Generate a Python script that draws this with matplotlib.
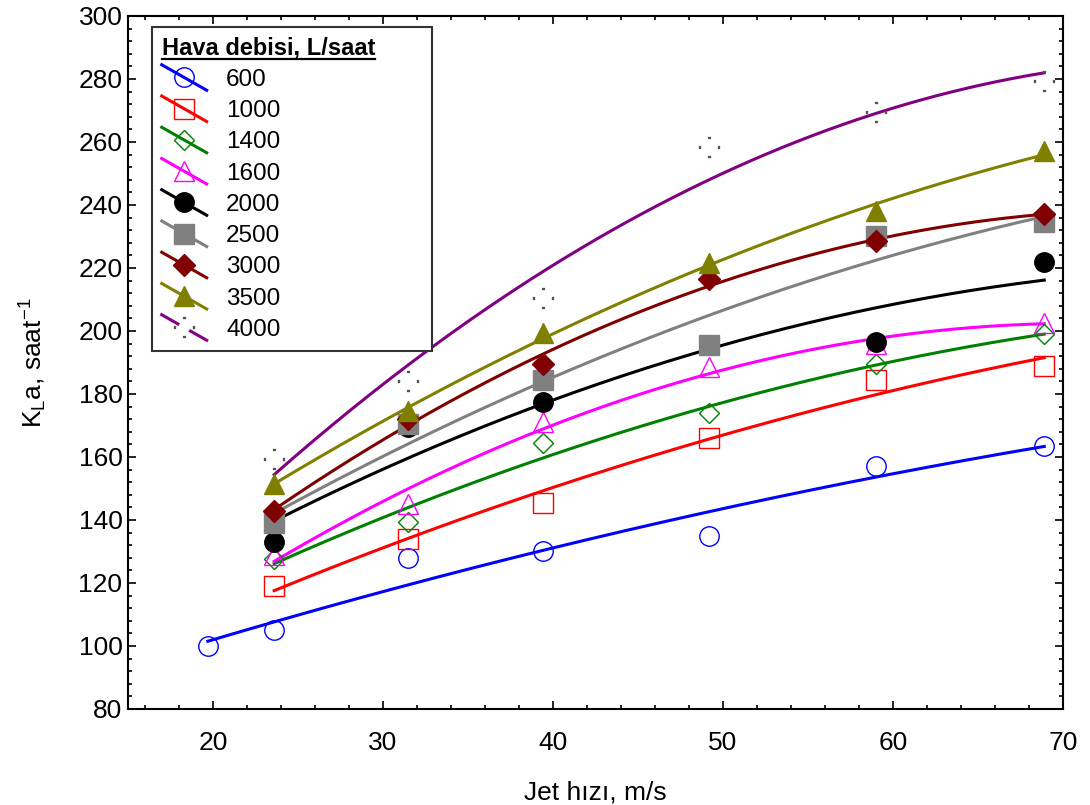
import numpy as np
import matplotlib
matplotlib.use("Agg")
import matplotlib.pyplot as plt
from matplotlib.path import Path
from matplotlib.legend_handler import HandlerLine2D
from matplotlib.lines import Line2D
from matplotlib.ticker import MultipleLocator

plt.rcParams['font.family'] = ['Liberation Sans', 'DejaVu Sans']
plt.rcParams['mathtext.fontset'] = 'custom'
plt.rcParams['mathtext.rm'] = 'Liberation Sans'
plt.rcParams['mathtext.it'] = 'Liberation Sans:italic'
plt.rcParams['mathtext.bf'] = 'Liberation Sans:bold'

# jet velocity (m/s) and KLa (1/h) for each air flow rate (L/h)
jet_x = [23.6, 31.5, 39.4, 49.2, 59.0, 68.9]
jet_x_600 = [19.7, 23.6, 31.5, 39.4, 49.2, 59.0, 68.9]

kla_600 = [100.0, 105.0, 128.0, 130.0, 135.0, 157.0, 163.5]
kla_1000 = [119.0, 134.0, 145.5, 166.0, 184.5, 189.0]
kla_1400 = [127.5, 139.5, 164.5, 174.0, 189.5, 199.0]
kla_1600 = [129.0, 145.0, 171.0, 188.5, 196.0, 202.5]
kla_2000 = [133.0, 169.5, 177.5, 195.5, 196.5, 222.0]
kla_2500 = [139.0, 170.5, 184.5, 195.5, 230.0, 234.5]
kla_3000 = [143.0, 172.0, 189.5, 216.5, 228.5, 237.0]
kla_3500 = [151.5, 174.5, 199.5, 221.5, 238.0, 257.0]
kla_4000 = [159.5, 184.0, 210.5, 258.5, 269.5, 279.5]

flow_labels = ['600', '1000', '1400', '1600', '2000', '2500', '3000', '3500', '4000']

# four tiny dots in a plus pattern (marker of the 4000 series)
s = 0.07
dot_verts = []
dot_codes = []
for cx, cy in [(0, 1), (1, 0), (0, -1), (-1, 0)]:
    dot_verts += [(cx - s, cy - s), (cx + s, cy - s), (cx + s, cy + s),
                  (cx - s, cy + s), (cx - s, cy - s)]
    dot_codes += [Path.MOVETO, Path.LINETO, Path.LINETO, Path.LINETO, Path.CLOSEPOLY]
four_dots = Path(dot_verts, dot_codes)

series = [
    (jet_x_600, kla_600, '#0000ff', 'o', 'none', 14),
    (jet_x, kla_1000, '#ff0000', 's', 'none', 14),
    (jet_x, kla_1400, '#008000', 'D', 'none', 10),
    (jet_x, kla_1600, '#ff00ff', '^', 'none', 14),
    (jet_x, kla_2000, '#000000', 'o', '#000000', 14),
    (jet_x, kla_2500, '#808080', 's', '#808080', 14),
    (jet_x, kla_3000, '#800000', 'D', '#800000', 11),
    (jet_x, kla_3500, '#808000', '^', '#808000', 14),
    (jet_x, kla_4000, '#800080', four_dots, '#555555', 15),
]


class DiagonalHandler(HandlerLine2D):
    """Legend handle with the line drawn diagonally through the marker."""

    def __init__(self, gap=False, **kw):
        super().__init__(**kw)
        self.gap = gap

    def create_artists(self, legend, orig_handle, xdescent, ydescent,
                       width, height, fontsize, trans):
        artists = super().create_artists(legend, orig_handle, xdescent, ydescent,
                                         width, height, fontsize, trans)
        line = artists[0]
        x0, x1 = -xdescent, -xdescent + width
        xm = x0 + 0.5 * width
        ym = (height - ydescent) / 2
        k = 0.75 * height
        if self.gap:
            line.set_data([x0, x0 + 0.36 * width, np.nan, xm, np.nan, x0 + 0.64 * width, x1],
                          [ym + k, ym + 0.28 * k, np.nan, ym, np.nan, ym - 0.28 * k, ym - k])
            line.set_markevery([3])
        else:
            line.set_data([x0, xm, x1], [ym + k, ym, ym - k])
            line.set_markevery([1])
        return artists


fig = plt.figure(figsize=(10.9, 8.05), dpi=100)
ax = fig.add_axes([0.1174, 0.1193, 0.8578, 0.8609])

handles = []
for (xs, ys, color, marker, mfc, ms), label in zip(series, flow_labels):
    xs = np.array(xs)
    ys = np.array(ys)
    coef = np.polyfit(xs, ys, 2)
    xf = np.linspace(xs.min(), xs.max(), 200)
    ax.plot(xf, np.polyval(coef, xf), color=color, lw=2.2, zorder=2)
    mec = '#555555' if mfc == '#555555' else color
    ax.plot(xs, ys, ls='none', marker=marker, ms=ms, mfc=mfc, mec=mec,
            mew=1.0, zorder=3)
    handles.append(Line2D([], [], color=color, lw=2.2, marker=marker, ms=ms,
                          mfc=mfc, mec=mec, mew=1.0, label=label))

ax.set_xlim(15, 70)
ax.set_ylim(80, 300)
ax.xaxis.set_major_locator(MultipleLocator(10))
ax.xaxis.set_minor_locator(MultipleLocator(2))
ax.yaxis.set_major_locator(MultipleLocator(20))
ax.yaxis.set_minor_locator(MultipleLocator(4))
ax.tick_params(which='both', direction='in', top=True, right=True,
               labelsize=19, width=1.2)
ax.tick_params(axis='x', which='both', pad=16)
ax.tick_params(axis='y', which='both', pad=4)
ax.tick_params(which='major', length=6)
ax.tick_params(which='minor', length=3)
for sp in ax.spines.values():
    sp.set_linewidth(1.5)

ax.set_xlabel('Jet hızı, m/s', fontsize=19, labelpad=18)
ax.set_ylabel(r'K$_{\mathregular{L}}$a, saat$^{\mathregular{-1}}$', fontsize=19, labelpad=21)

hmap = {h: DiagonalHandler(gap=(h.get_label() == '4000')) for h in handles}
leg = ax.legend(handles=handles, loc='upper left',
                bbox_to_anchor=(0.0257, 0.3, 0.2995, 0.684), mode='expand',
                borderaxespad=0, fontsize=17.5, title='Hava debisi, L/saat',
                title_fontproperties={'weight': 'bold', 'size': 17},
                alignment='left', frameon=True, fancybox=False, framealpha=1,
                edgecolor='#333333', handlelength=1.85, handletextpad=0.8,
                labelspacing=0.38, borderpad=0.4, handler_map=hmap)
leg.get_frame().set_linewidth(1.5)

# underline the legend title
fig.canvas.draw()
bb = leg.get_title().get_window_extent(fig.canvas.get_renderer())
bbf = bb.transformed(fig.transFigure.inverted())
yl = bbf.y0 + 1.0 / 805
fig.add_artist(Line2D([bbf.x0, bbf.x1], [yl, yl], transform=fig.transFigure,
                      color='black', lw=1.6))

fig.savefig('out.png', dpi=100)
